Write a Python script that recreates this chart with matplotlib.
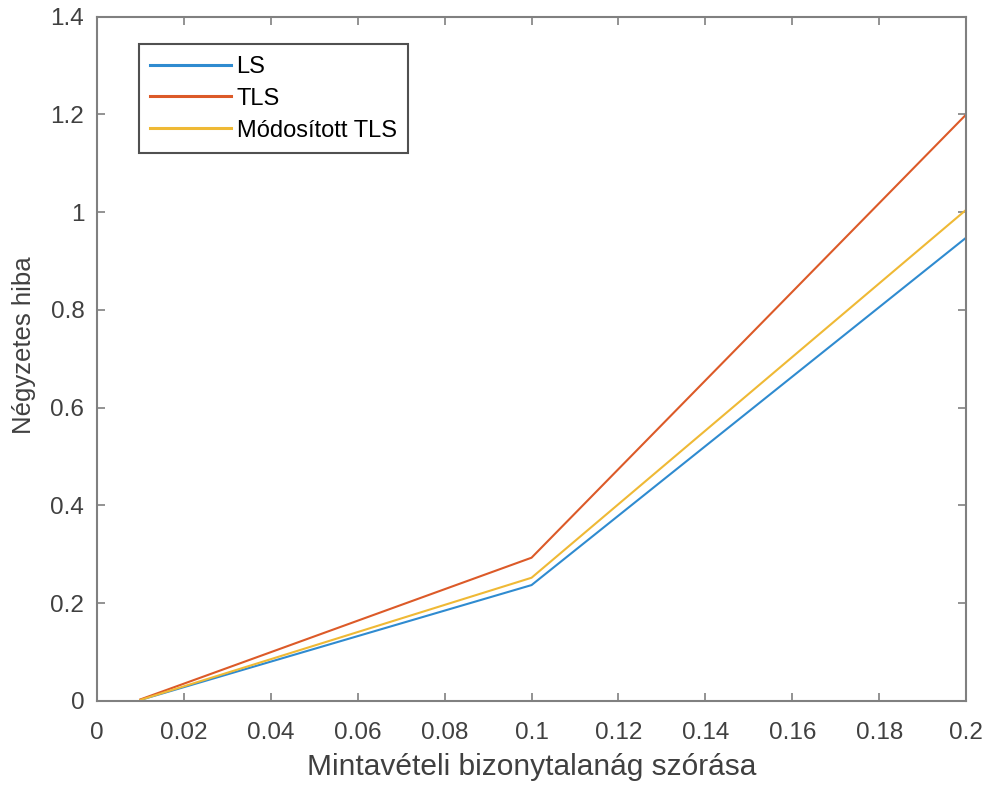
import numpy as np
import matplotlib.pyplot as plt

plt.rcParams['font.family'] = ['Liberation Sans', 'DejaVu Sans']

# data
sigma = [0.01, 0.1, 0.2]
ls_err = [0.002, 0.237, 0.948]
tls_err = [0.003, 0.293, 1.200]
mtls_err = [0.002, 0.252, 1.005]

labels = ['LS', 'TLS', 'Módosított TLS']
colors = ['#2f8bd0', '#dc5a28', '#efb935']

fig = plt.figure(figsize=(9.88, 7.92), dpi=100)
ax = fig.add_axes([0.098, 0.115, 0.88, 0.864])

for y, lab, c in zip([ls_err, tls_err, mtls_err], labels, colors):
    ax.plot(sigma, y, color=c, lw=1.5, label=lab)

ax.set_xlim(0, 0.2)
ax.set_ylim(0, 1.4)
ax.set_xticks(np.arange(0, 0.201, 0.02))
ax.set_xticklabels(['0', '0.02', '0.04', '0.06', '0.08', '0.1', '0.12',
                    '0.14', '0.16', '0.18', '0.2'])
ax.set_yticks(np.arange(0, 1.41, 0.2))
ax.set_yticklabels(['0', '0.2', '0.4', '0.6', '0.8', '1', '1.2', '1.4'])

grey = '#808080'
txt = '#404040'
for s in ax.spines.values():
    s.set_color(grey)
    s.set_linewidth(1.5)
ax.tick_params(direction='in', top=True, right=True, length=6, width=1.2,
               labelsize=17.5, color=grey, labelcolor=txt)
ax.tick_params(axis='x', pad=15)
ax.tick_params(axis='y', pad=9)

ax.set_xlabel('Mintavételi bizonytalanág szórása', fontsize=21.5, color=txt,
              labelpad=7)
ax.set_ylabel('Négyzetes hiba', fontsize=18.5, color=txt)
ax.yaxis.set_label_coords(-0.0695, 0.52)

leg = ax.legend(loc='upper left', bbox_to_anchor=(0.048, 0.96), fontsize=17,
                fancybox=False, framealpha=1, edgecolor='#505050',
                handlelength=3.4, handletextpad=0.25, borderpad=0.5,
                labelspacing=0.42, borderaxespad=0)
leg.get_frame().set_linewidth(1.5)
for h in leg.get_lines():
    h.set_linewidth(2.2)

fig.savefig('out.png', dpi=100)
